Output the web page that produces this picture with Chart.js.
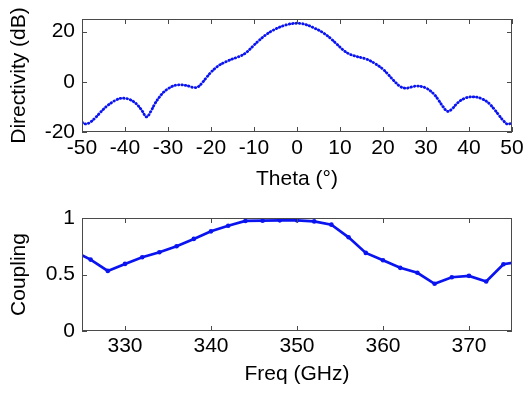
<!DOCTYPE html>
<html><head><meta charset="utf-8">
<script src="https://cdn.jsdelivr.net/npm/chart.js@4/dist/chart.umd.min.js"></script>
<style>
html,body{margin:0;padding:0;background:#fff;width:523px;height:395px;overflow:hidden}
#c1{position:absolute;left:0;top:0}
#c2{position:absolute;left:0;top:200px}
</style></head><body>
<canvas id="c1" width="523" height="200"></canvas>
<canvas id="c2" width="523" height="195"></canvas>
<script>
// ---- Top plot data: Directivity (dB) vs Theta (deg) ----
const thetaDeg = [
 -50,-49,-48,-47,-46,-45,-44,-43,-42,-41,
 -40,-39,-38,-37,-36,-35,-34,-33,-32,-31,
 -30,-29,-28,-27,-26,-25,-24,-23,-22,-21,
 -20,-19,-18,-17,-16,-15,-14,-13,-12,-11,
 -10,-9,-8,-7,-6,-5,-4,-3,-2,-1,
 0,
 1,2,3,4,5,6,7,8,9,10,
 11,12,13,14,15,16,17,18,19,20,
 21,22,23,24,25,26,27,28,29,30,
 31,32,33,34,35,36,37,38,39,40,
 41,42,43,44,45,46,47,48,49,50];
const directivityDb = [
 -16.2,-16.8,-16.0,-14.5,-12.7,-10.9,-9.4,-8.2,-7.2,-6.6,
 -6.6,-7.0,-7.9,-9.4,-11.6,-14.0,-11.8,-8.6,-6.1,-4.1,
 -2.8,-1.8,-1.3,-1.2,-1.4,-1.8,-2.3,-2.0,-0.3,1.8,
 3.8,5.4,6.7,7.6,8.4,9.1,9.7,10.4,11.4,12.9,
 14.6,16.2,17.7,19.0,20.1,21.0,21.8,22.4,22.9,23.2,
 23.3,
 23.2,22.8,22.2,21.4,20.6,19.6,18.4,17.0,15.4,13.8,
 12.3,11.2,10.5,10.0,9.6,9.1,8.4,7.4,6.3,5.0,
 3.3,1.4,-0.4,-1.9,-2.5,-2.4,-1.9,-1.7,-1.9,-2.5,
 -3.6,-5.2,-7.5,-10.0,-11.8,-10.9,-9.0,-7.5,-6.6,-6.1,
 -6.0,-6.2,-6.8,-7.7,-9.2,-11.2,-13.4,-15.5,-16.9,-16.3];
const thetaTicks = [-50,-40,-30,-20,-10,0,10,20,30,40,50];
const directivityTicks = [-20,0,20];

// ---- Bottom plot data: Coupling vs Freq (GHz) ----
const freqGHz = [324,326,328,330,332,334,336,338,340,342,344,346,348,350,352,354,356,358,360,362,364,366,368,370,372,374,376];
const coupling = [0.71,0.632,0.532,0.594,0.653,0.697,0.75,0.815,0.882,0.932,0.974,0.976,0.979,0.979,0.97,0.941,0.829,0.691,0.626,0.559,0.515,0.418,0.476,0.488,0.438,0.591,0.615];
const freqTicks = [330,340,350,360,370];
const couplingTicks = [0,0.5,1];

const FONT = "'Liberation Sans', Arial, Helvetica, sans-serif";
const tickFont = {family: FONT, size: 21};
const titleFont = {family: FONT, size: 21};
const BLUE = 'rgb(10,20,240)';
const FRAME = '#4a4a4a';

const boxPlugin = {
  id: 'matlabBox',
  afterDatasetsDraw(chart) {
    const {ctx, chartArea: a, scales: {x, y}} = chart;
    const L = 5;
    ctx.save();
    ctx.strokeStyle = FRAME;
    ctx.lineWidth = 1;
    ctx.beginPath();
    x.ticks.forEach(t => {
      const px = Math.round(x.getPixelForValue(t.value)) + 0.5;
      ctx.moveTo(px, a.bottom); ctx.lineTo(px, a.bottom - L);
      ctx.moveTo(px, a.top); ctx.lineTo(px, a.top + L);
    });
    y.ticks.forEach(t => {
      const py = Math.round(y.getPixelForValue(t.value)) + 0.5;
      ctx.moveTo(a.left, py); ctx.lineTo(a.left + L, py);
      ctx.moveTo(a.right, py); ctx.lineTo(a.right - L, py);
    });
    ctx.stroke();
    ctx.strokeRect(Math.round(a.left) + 0.5, Math.round(a.top) + 0.5,
                   Math.round(a.right - a.left) - 1, Math.round(a.bottom - a.top) - 1);
    ctx.restore();
  }
};

function makeScales(opt) {
  return {
    x: {
      type: 'linear', min: opt.xmin, max: opt.xmax,
      afterBuildTicks: s => { s.ticks = opt.xticks.map(v => ({value: v})); },
      afterFit: s => { s.height = opt.xh; s.paddingLeft = 0; s.paddingRight = 0; },
      ticks: {font: tickFont, color: '#000', padding: opt.xpad, maxRotation: 0, autoSkip: false, callback: v => String(v)},
      grid: {display: false, drawTicks: false},
      border: {display: false},
      title: {display: true, text: opt.xtitle, font: titleFont, color: '#000', padding: {top: 0, bottom: 8}}
    },
    y: {
      type: 'linear', min: opt.ymin, max: opt.ymax,
      afterBuildTicks: s => { s.ticks = opt.yticks.map(v => ({value: v})); },
      afterFit: s => { s.width = 82; s.paddingTop = 0; s.paddingBottom = 0; },
      ticks: {font: tickFont, color: '#000', padding: 7, autoSkip: false, callback: v => String(v)},
      grid: {display: false, drawTicks: false},
      border: {display: false},
      title: {display: true, text: opt.ytitle, font: titleFont, color: '#000', padding: {top: 7, bottom: 0}}
    }
  };
}

new Chart(document.getElementById('c1'), {
  type: 'line',
  data: {
    datasets: [{
      data: thetaDeg.map((t, i) => ({x: t, y: directivityDb[i]})),
      borderColor: BLUE, borderWidth: 2.8, borderDash: [0.5, 2.9], borderCapStyle: 'round',
      pointRadius: 0, tension: 0.4, fill: false
    }]
  },
  options: {
    responsive: false, animation: false, devicePixelRatio: 1,
    layout: {padding: {left: 0, right: 11, top: 19, bottom: 0}},
    plugins: {legend: {display: false}, tooltip: {enabled: false}},
    scales: makeScales({xmin: -50, xmax: 50, xticks: thetaTicks, xh: 68, xpad: 4,
      xtitle: 'Theta (°)', ymin: -20, ymax: 25, yticks: directivityTicks, ytitle: 'Directivity (dB)'})
  },
  plugins: [boxPlugin]
});

new Chart(document.getElementById('c2'), {
  type: 'line',
  data: {
    datasets: [{
      data: freqGHz.map((f, i) => ({x: f, y: coupling[i]})),
      borderColor: BLUE, backgroundColor: BLUE, borderWidth: 2.7,
      pointRadius: 2.3, pointBorderWidth: 0, tension: 0, fill: false
    }]
  },
  options: {
    responsive: false, animation: false, devicePixelRatio: 1,
    layout: {padding: {left: 0, right: 11, top: 18, bottom: 0}},
    plugins: {legend: {display: false}, tooltip: {enabled: false}},
    scales: makeScales({xmin: 325, xmax: 375, xticks: freqTicks, xh: 64, xpad: 3,
      xtitle: 'Freq (GHz)', ymin: 0, ymax: 1, yticks: couplingTicks, ytitle: 'Coupling'})
  },
  plugins: [boxPlugin]
});
</script>
</body></html>
